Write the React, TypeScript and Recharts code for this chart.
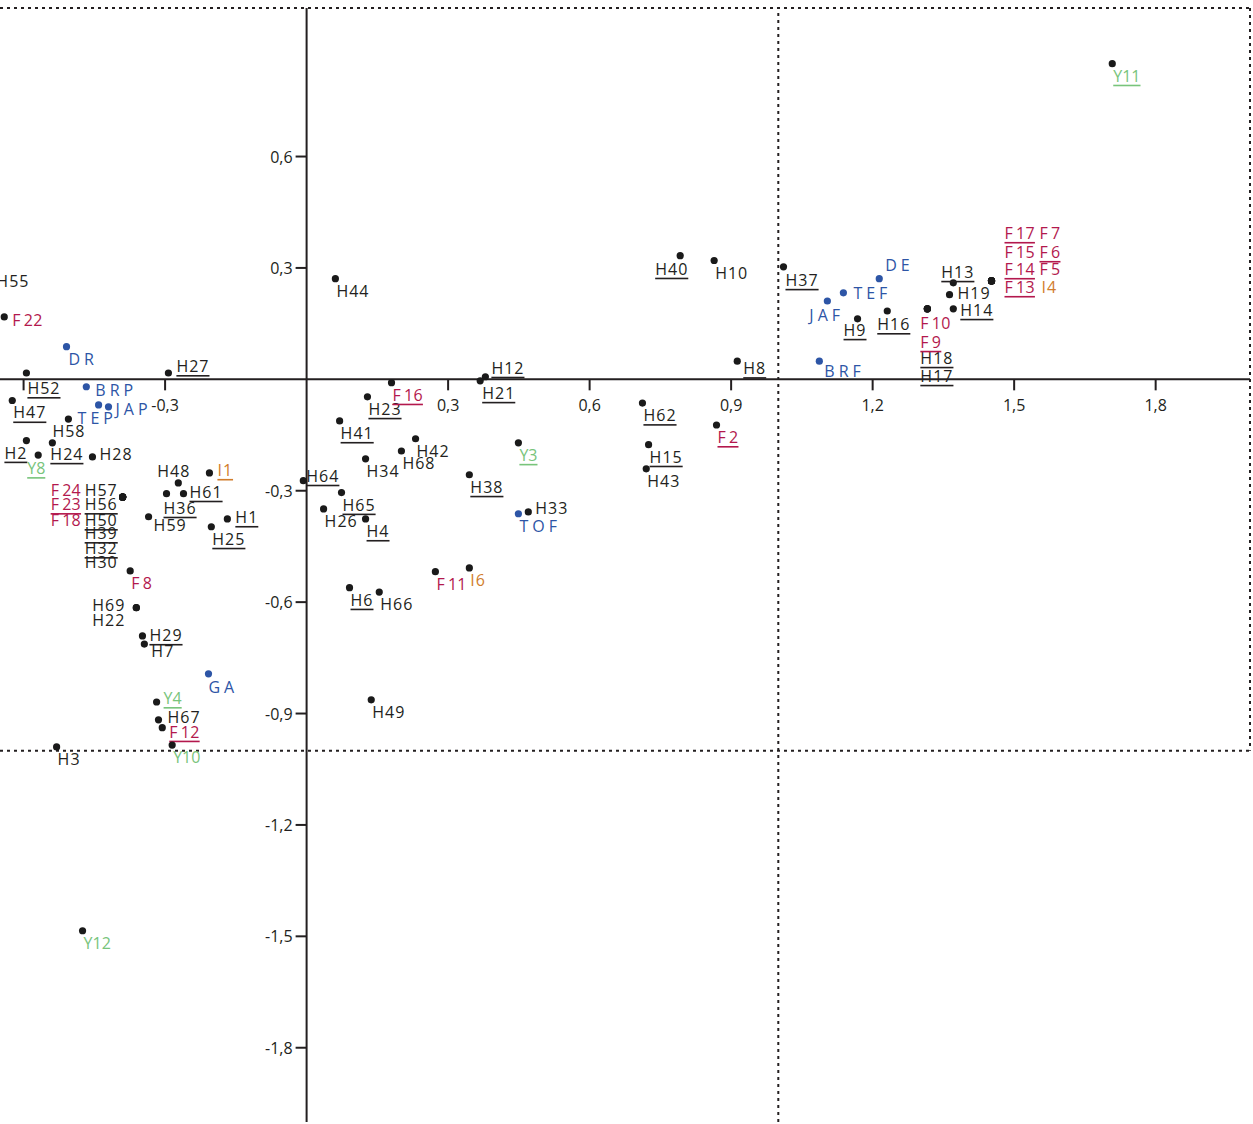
import { ScatterChart, Scatter, XAxis, YAxis, ReferenceLine } from 'recharts'

type Pt = [string, number, number]

// individuals – black dots, black labels
const hPoints: Pt[] = [
  ['H55', -0.662, 0.297], ['H44', 0.061, 0.271], ['H52', -0.594, 0.017], ['H27', -0.293, 0.017],
  ['H47', -0.624, -0.057], ['H58', -0.505, -0.107], ['H2', -0.594, -0.165], ['H24', -0.539, -0.171],
  ['H28', -0.454, -0.209], ['H48', -0.272, -0.279], ['H36', -0.297, -0.308], ['H61', -0.261, -0.308],
  ['H57', -0.39, -0.317], ['H56', -0.39, -0.317], ['H50', -0.39, -0.317], ['H39', -0.39, -0.317],
  ['H32', -0.39, -0.317], ['H30', -0.39, -0.317], ['H59', -0.335, -0.37], ['H1', -0.168, -0.376],
  ['H25', -0.202, -0.397], ['H69', -0.361, -0.615], ['H22', -0.361, -0.615], ['H29', -0.348, -0.691],
  ['H7', -0.344, -0.713], ['H67', -0.314, -0.917], ['H3', -0.53, -0.99],
  ['H23', 0.129, -0.047], ['H12', 0.379, 0.007], ['H21', 0.368, -0.004], ['H41', 0.07, -0.112],
  ['H42', 0.231, -0.16], ['H68', 0.201, -0.193], ['H34', 0.125, -0.214], ['H64', -0.007, -0.273],
  ['H38', 0.345, -0.257], ['H65', 0.074, -0.305], ['H26', 0.036, -0.349], ['H4', 0.125, -0.376],
  ['H33', 0.47, -0.357], ['H6', 0.091, -0.561], ['H66', 0.154, -0.573], ['H49', 0.137, -0.863],
  ['H40', 0.792, 0.333], ['H10', 0.864, 0.32], ['H37', 1.011, 0.303], ['H8', 0.913, 0.049],
  ['H62', 0.712, -0.064], ['H15', 0.725, -0.176], ['H43', 0.72, -0.241],
  ['H9', 1.168, 0.163], ['H16', 1.231, 0.184], ['H18', 1.316, 0.19], ['H17', 1.316, 0.19],
  ['H13', 1.371, 0.26], ['H19', 1.363, 0.228], ['H14', 1.371, 0.19],
]

// red labels
const fPoints: Pt[] = [
  ['F 22', -0.641, 0.168], ['F 24', -0.39, -0.317], ['F 23', -0.39, -0.317], ['F 18', -0.39, -0.317],
  ['F 8', -0.374, -0.516], ['F 12', -0.306, -0.938], ['F 16', 0.18, -0.009], ['F 11', 0.273, -0.518],
  ['F 2', 0.869, -0.123], ['F 10', 1.316, 0.19], ['F 9', 1.316, 0.19],
  ['F 17', 1.452, 0.265], ['F 15', 1.452, 0.265], ['F 14', 1.452, 0.265], ['F 13', 1.452, 0.265],
  ['F 7', 1.452, 0.265], ['F 6', 1.452, 0.265], ['F 5', 1.452, 0.265],
]

// green labels
const yPoints: Pt[] = [
  ['Y8', -0.569, -0.204], ['Y4', -0.318, -0.869], ['Y10', -0.285, -0.985], ['Y12', -0.475, -1.485],
  ['Y3', 0.449, -0.171], ['Y11', 1.708, 0.85],
]

// orange labels
const iPoints: Pt[] = [
  ['I1', -0.206, -0.252], ['I6', 0.345, -0.508], ['I4', 1.452, 0.265],
]

// blue dots and labels
const groupPoints: Pt[] = [
  ['DR', -0.509, 0.088], ['BRP', -0.467, -0.02], ['TEP', -0.441, -0.069], ['JAP', -0.42, -0.074],
  ['GA', -0.208, -0.793], ['TOF', 0.449, -0.362], ['DE', 1.214, 0.271], ['TEF', 1.138, 0.233],
  ['JAF', 1.104, 0.211], ['BRF', 1.087, 0.049],
]

const underlined = new Set([
  'H52', 'H27', 'H47', 'H2', 'H24', 'Y8', 'I1', 'H61', 'H36', 'F 23', 'H56', 'H50', 'H39', 'H32',
  'H1', 'H25', 'H29', 'Y4', 'F 12', 'F 16', 'H23', 'H12', 'H21', 'H41', 'Y3', 'H64', 'H38', 'H65',
  'H4', 'H6', 'H40', 'H37', 'H8', 'H62', 'F 2', 'H15', 'H9', 'H16', 'F 9', 'H18', 'H17', 'H13',
  'H14', 'F 17', 'F 14', 'F 13', 'F 6', 'Y11',
])

const xTicks = [-0.6, -0.3, 0.3, 0.6, 0.9, 1.2, 1.5, 1.8]
const xTickLabels = ['', '-0,3', '0,3', '0,6', '0,9', '1,2', '1,5', '1,8']
const yTicks = [0.6, 0.3, -0.3, -0.6, -0.9, -1.2, -1.5, -1.8]
const yTickLabels = ['0,6', '0,3', '-0,3', '-0,6', '-0,9', '-1,2', '-1,5', '-1,8']

// label placement in px from the dot: [dx to text start, dy to text middle]
const labelPos: Record<string, [number, number]> = {
  H55: [2, 12], 'F 22': [8, 3], DR: [2, 12], H52: [1, 15], H27: [8, -7], BRP: [9, 3], H47: [1, 12],
  TEP: [-21, 13], JAP: [7, 2], H58: [-16, 12], H2: [-22, 12], H24: [-2, 11], Y8: [-11, 13],
  H28: [7, -3], H48: [-21, -12], I1: [8, -3], H36: [-3, 14], H61: [6, -2],
  'F 24': [-72, -7], 'F 23': [-72, 7], 'F 18': [-72, 23],
  H57: [-38, -7], H56: [-38, 7], H50: [-38, 23], H39: [-38, 36], H32: [-38, 51], H30: [-38, 65],
  H59: [5, 8], H1: [8, -2], H25: [1, 12], 'F 8': [1, 12], H69: [-44, -3], H22: [-44, 12],
  H29: [7, -1], H7: [7, 7], GA: [0, 13], Y4: [7, -4], H67: [9, -3], 'F 12': [7, 4],
  H12: [6, -9], H21: [2, 12], H64: [3, -5], H33: [7, -4], 'F 9': [-7, 33], 'F 10': [-7, 14],
  H40: [-25, 13], H37: [2, 13], H8: [6, 7], DE: [6, -14], TEF: [10, 0], JAF: [-18, 14],
  H9: [-14, 11], H16: [-10, 13], H18: [-7, 49], H17: [-7, 67], H13: [-12, -11], H19: [8, -2],
  H14: [7, 1], 'F 17': [13, -48], 'F 15': [13, -29], 'F 14': [13, -12], 'F 13': [13, 6],
  'F 7': [48, -48], 'F 6': [48, -29], 'F 5': [48, -12], I4: [50, 6], BRF: [5, 10],
}

const FONT = '"Open Sans", "DejaVu Sans", sans-serif'
const INK = '#231f20'

const toData = (pts: Pt[]) => pts.map(([name, x, y]) => ({ name, x, y }))

function makeShape(dotColor: string, textColor: string, spacing: number, wordSpacing = 0) {
  return (props: any) => {
    const { cx, cy, payload } = props
    const [dx, dy] = labelPos[payload.name] ?? [1, 12]
    const style: any = { wordSpacing }
    if (underlined.has(payload.name)) style.textDecoration = 'underline'
    return (
      <g>
        <circle cx={cx} cy={cy} r={3.6} fill={dotColor} />
        <text
          x={cx + dx}
          y={cy + dy}
          fill={textColor}
          fontSize={16}
          fontFamily={FONT}
          letterSpacing={spacing}
          dominantBaseline="central"
          style={style}
        >
          {payload.name}
        </text>
      </g>
    )
  }
}

const xTickShape = (props: any) => {
  const { cx, cy, payload } = props
  return (
    <g>
      <line x1={cx} y1={cy} x2={cx} y2={cy + 11} stroke={INK} strokeWidth={2} />
      <text x={cx} y={cy + 26} textAnchor="middle" dominantBaseline="central" fontSize={16} fontFamily={FONT} fill={INK}>
        {payload.label}
      </text>
    </g>
  )
}

const yTickShape = (props: any) => {
  const { cx, cy, payload } = props
  return (
    <g>
      <line x1={cx - 11} y1={cy} x2={cx} y2={cy} stroke={INK} strokeWidth={2} />
      <text x={cx - 14} y={cy} textAnchor="end" dominantBaseline="central" fontSize={16} fontFamily={FONT} fill={INK}>
        {payload.label}
      </text>
    </g>
  )
}

export default function App() {
  const xTickData = xTicks.map((t, i) => ({ x: t, y: 0, label: xTickLabels[i] }))
  const yTickData = yTicks.map((t, i) => ({ x: 0, y: t, label: yTickLabels[i] }))

  return (
    <div style={{ position: 'absolute', left: 0, top: 0, background: '#fff' }}>
      <ScatterChart width={1253} height={1124} margin={{ top: 8, right: 3, bottom: 2, left: 0 }}>
        <XAxis type="number" dataKey="x" domain={[-0.65, 2]} allowDataOverflow hide height={0} />
        <YAxis type="number" dataKey="y" domain={[-2, 1]} allowDataOverflow hide width={0} />

        {/* dotted frame */}
        <ReferenceLine y={1} stroke={INK} strokeWidth={2} strokeDasharray="3 4" />
        <ReferenceLine y={-1} stroke={INK} strokeWidth={2} strokeDasharray="3 4" />
        <ReferenceLine x={1} stroke={INK} strokeWidth={2} strokeDasharray="3 4" />
        <ReferenceLine segment={[{ x: 2, y: 1 }, { x: 2, y: -1 }]} stroke={INK} strokeWidth={2} strokeDasharray="3 4" />

        {/* axes through the origin */}
        <ReferenceLine y={0} stroke={INK} strokeWidth={2} />
        <ReferenceLine x={0} stroke={INK} strokeWidth={2} />

        <Scatter data={xTickData} shape={xTickShape} isAnimationActive={false} />
        <Scatter data={yTickData} shape={yTickShape} isAnimationActive={false} />

        <Scatter data={toData(hPoints)} shape={makeShape('#1a1a1a', INK, 1)} isAnimationActive={false} />
        <Scatter data={toData(fPoints)} shape={makeShape('#1a1a1a', '#b3184d', 0.3, -1.5)} isAnimationActive={false} />
        <Scatter data={toData(yPoints)} shape={makeShape('#1a1a1a', '#78c47b', 0)} isAnimationActive={false} />
        <Scatter data={toData(iPoints)} shape={makeShape('#1a1a1a', '#d17d2c', 1)} isAnimationActive={false} />
        <Scatter data={toData(groupPoints)} shape={makeShape('#2d55a6', '#2d55a6', 4)} isAnimationActive={false} />
      </ScatterChart>
    </div>
  )
}
